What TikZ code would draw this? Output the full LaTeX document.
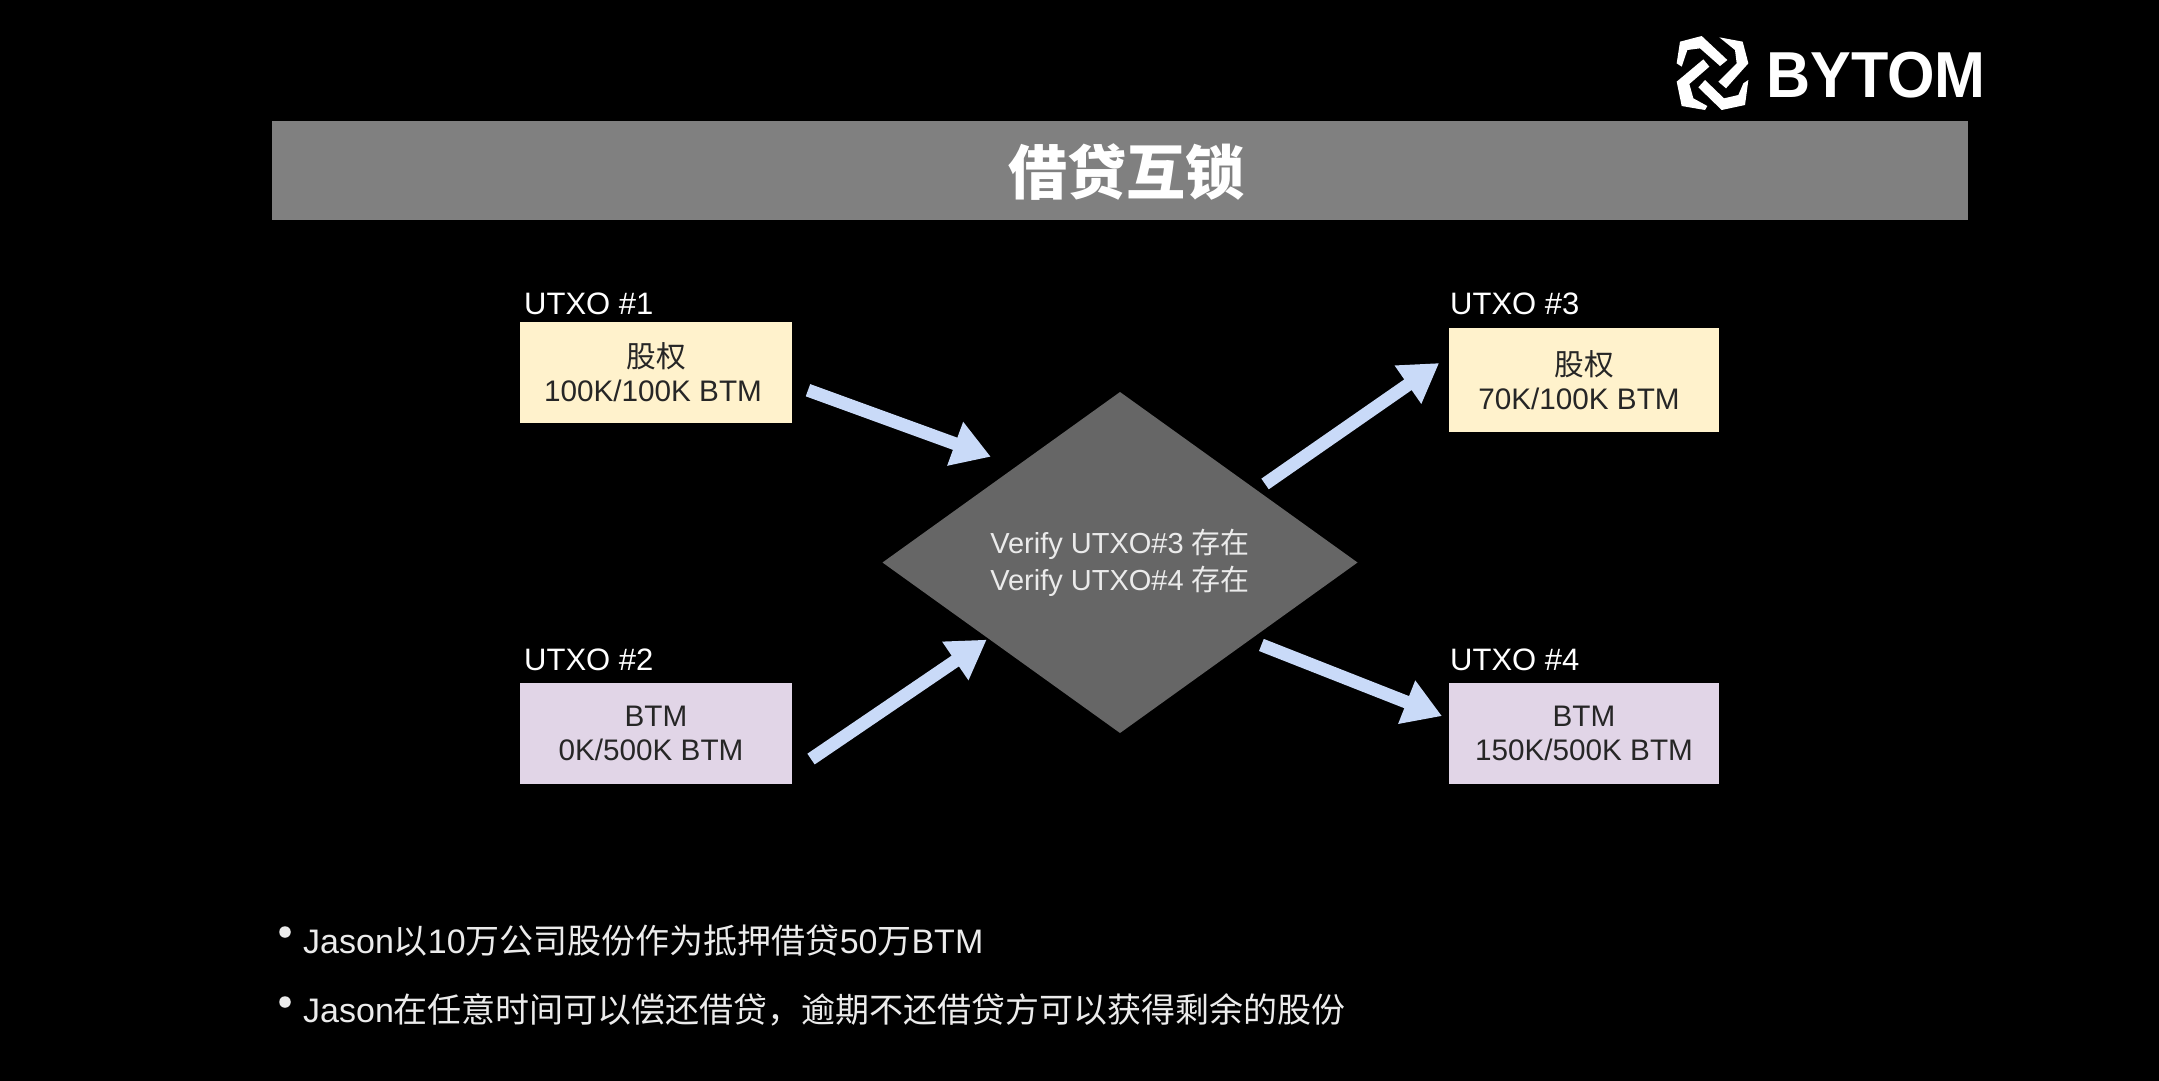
\documentclass[tikz,border=0pt]{standalone}
\usepackage{fontspec}
\setmainfont{Liberation Sans}
\newfontfamily\cjk{Noto Sans CJK SC}
\usetikzlibrary{arrows.meta, shapes.geometric}

\definecolor{bannerGray}{HTML}{808080}
\definecolor{diamondGray}{HTML}{666666}
\definecolor{stakeYellow}{HTML}{FFF2CC}
\definecolor{coinPurple}{HTML}{E1D5E7}
\definecolor{flowBlue}{HTML}{C9DAF8}

\tikzset{
  utxobox/.style={rectangle, inner sep=0pt, outer sep=0pt, minimum width=272pt, minimum height=101pt, align=center, text=black!85, font=\fontsize{29.7pt}{34pt}\selectfont},
  utxolabel/.style={anchor=base west, inner sep=0pt, text=white, font=\fontsize{31pt}{36pt}\selectfont},
  flowarrow/.style={-{Triangle[length=38pt,width=44pt]}, line width=13pt, draw=flowBlue},
  bullettext/.style={anchor=base west, inner sep=0pt, text=white!92!black, font=\fontsize{34pt}{40pt}\selectfont},
  bulletdot/.style={circle, fill=white!92!black, inner sep=0pt, minimum size=11.5pt}
}

\begin{document}
\begin{tikzpicture}[x=1pt, y=-1pt]
\useasboundingbox (0,0) rectangle (2159,1080);
\fill[black] (-5,-5) rectangle (2165,1085);

% Draw logo
\begin{scope}[shift={(1600,0)}, scale=1/3]
\fill[white] (305,108) -- (382,180) -- (360,198) -- (300,145) -- (262,150) -- (245,200) -- (230,190) -- (240,125) -- cycle;
\fill[white] (358,112) -- (428,125) -- (445,190) -- (378,265) -- (355,245) -- (410,190) -- (405,150) -- cycle;
\fill[white] (315,240) -- (372,295) -- (415,285) -- (430,250) -- (445,240) -- (435,315) -- (365,330) -- (295,262) -- cycle;
\fill[white] (310,178) -- (328,200) -- (268,252) -- (280,295) -- (322,318) -- (315,330) -- (245,318) -- (230,245) -- cycle;
\end{scope}
\node (logoText) [anchor=base west, inner sep=0pt, text=white, xscale=0.94, font=\fontsize{65pt}{70pt}\selectfont\bfseries] at (1766,97) {BYTOM};

% Title banner
\fill[bannerGray] (272,121) rectangle (1968,220);
\node (title) [text=white, inner sep=0pt, font=\fontsize{59pt}{64pt}\cjk\bfseries] at (1126,172) {借贷互锁};

% Boxes on both sides
\node (utxoOne) [utxobox, fill=stakeYellow] at (656,372.5) {{\cjk 股权}\\100K/100K BTM\hspace*{6pt}};
\node (utxoTwo) [utxobox, fill=coinPurple] at (656,733) {BTM\\0K/500K BTM\hspace*{10pt}};
\node (utxoThree) [utxobox, fill=stakeYellow, minimum width=270pt, minimum height=104pt] at (1584,380) {{\cjk 股权}\\70K/100K BTM\hspace*{10pt}};
\node (utxoFour) [utxobox, fill=coinPurple, minimum width=270pt] at (1584,733) {BTM\\150K/500K BTM};

% Box labels
\node (labelOne) [utxolabel] at (524,314) {UTXO \#1};
\node (labelTwo) [utxolabel] at (524,670) {UTXO \#2};
\node (labelThree) [utxolabel] at (1450,314) {UTXO \#3};
\node (labelFour) [utxolabel] at (1450,670) {UTXO \#4};

% Center diamond
\node (verify) [diamond, fill=diamondGray, inner sep=0pt, outer sep=0pt, aspect=1.39, minimum width=475pt, minimum height=341pt, align=center, text=white!92!black, font=\fontsize{29pt}{37pt}\selectfont] at (1120,562.5) {Verify UTXO\#3 {\cjk 存在}\\Verify UTXO\#4 {\cjk 存在}};

% Draw arrows
\draw[flowarrow, shorten <=17pt, shorten >=27.5pt] (utxoOne.-5.7) -- (verify.137.3);
\draw[flowarrow, shorten <=23pt, shorten >=2pt] (utxoTwo.-16.8) -- (verify.210.9);
\draw[flowarrow, shorten <=10.5pt, shorten >=12pt] (verify.28.5) -- (utxoThree.170.7);
\draw[flowarrow, shorten <=13pt, shorten >=7.5pt] (verify.-31.7) -- (utxoFour.174);

% Bullet lines
\node (dotOne) [bulletdot] at (285,932) {};
\node (lineOne) [bullettext] at (303,953) {Jason{\cjk 以}10{\cjk 万公司股份作为抵押借贷}50{\cjk 万}BTM};
\node (dotTwo) [bulletdot] at (285,1002) {};
\node (lineTwo) [bullettext] at (303,1022) {Jason{\cjk 在任意时间可以偿还借贷，逾期不还借贷方可以获得剩余的股份}};
\end{tikzpicture}
\end{document}
